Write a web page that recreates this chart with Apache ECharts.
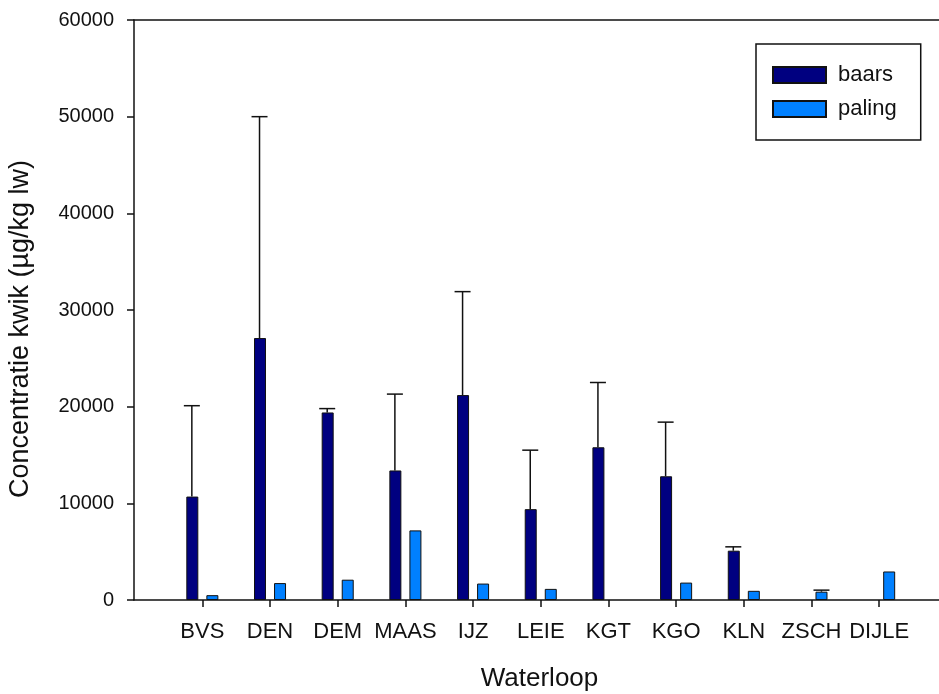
<!DOCTYPE html>
<html>
<head>
<meta charset="utf-8">
<style>
  html, body { margin: 0; padding: 0; background: #fff; }
  #chart { width: 939px; height: 694px; }
</style>
<script src="https://cdn.jsdelivr.net/npm/echarts@6/dist/echarts.min.js"></script>
</head>
<body>
<div id="chart"></div>
<script>
// ---- Data ----
const categories = ['BVS', 'DEN', 'DEM', 'MAAS', 'IJZ', 'LEIE', 'KGT', 'KGO', 'KLN', 'ZSCH', 'DIJLE'];
const baars      = [10700, 27100, 19400, 13400, 21200, 9400, 15800, 12800, 5100, null, null];
const baarsUpper = [20100, 50000, 19800, 21300, 31900, 15500, 22500, 18400, 5500, null, null];
const paling      = [500, 1750, 2100, 7200, 1700, 1150, null, 1800, 950, 860, 2950];
const palingUpper = [null, null, null, null, null, null, null, null, null, 1020, null];
const yTicks = [0, 10000, 20000, 30000, 40000, 50000, 60000];

const FONT = '"Liberation Sans", Arial, sans-serif';
const BAR_W = 12;
const BAR_OFF = 10;   // half distance between the two bar centres in a group

function errorSeries(name, values, uppers, offset) {
  const data = categories.map((c, i) => [i, values[i], uppers[i]]);
  return {
    type: 'custom',
    name: name + ' err',
    xAxisIndex: 2,
    yAxisIndex: 1,
    silent: true,
    z: 1,
    data: data,
    renderItem: function (params, api) {
      const v = api.value(1), u = api.value(2);
      if (u == null || isNaN(u) || v == null || isNaN(v)) return;
      const base = api.coord([api.value(0), v]);
      const top = api.coord([api.value(0), u]);
      const x = base[0] + offset;
      const half = 8;
      const st = { stroke: '#111', lineWidth: 1.5 };
      return {
        type: 'group',
        children: [
          { type: 'line', shape: { x1: x, y1: base[1], x2: x, y2: top[1] }, style: st },
          { type: 'line', shape: { x1: x - half, y1: top[1], x2: x + half, y2: top[1] }, style: st }
        ]
      };
    }
  };
}

const chart = echarts.init(document.getElementById('chart'));
chart.setOption({
  animation: false,
  backgroundColor: '#ffffff',
  textStyle: { fontFamily: FONT },
  legend: {
    orient: 'vertical',
    left: 756,
    top: 44,
    padding: [20, 24, 20, 16],
    itemWidth: 53,
    itemHeight: 16,
    itemGap: 12,
    borderColor: '#111',
    borderWidth: 1.5,
    borderRadius: 0,
    icon: 'rect',
    textStyle: { fontFamily: FONT, fontSize: 22, color: '#111', padding: [0, 0, 0, 7] },
    data: ['baars', 'paling']
  },
  grid: [
    { left: 134, right: 0, top: 20, bottom: 94, containLabel: false, outerBoundsMode: 'none' },
    { left: 168.5, right: 26, top: 20, bottom: 94, containLabel: false, outerBoundsMode: 'none' }
  ],
  xAxis: [
    { // frame bottom line
      gridIndex: 0, type: 'value', min: 0, max: 1, position: 'bottom',
      axisLine: { show: true, lineStyle: { color: '#111', width: 1.5 } },
      axisTick: { show: false }, axisLabel: { show: false }, splitLine: { show: false },
      name: 'Waterloop', nameLocation: 'middle', nameGap: 66,
      nameTextStyle: { fontFamily: FONT, fontSize: 26, color: '#111', padding: [0, 0, 0, 6] }
    },
    { // frame top line
      gridIndex: 0, type: 'value', min: 0, max: 1, position: 'top',
      axisLine: { show: true, lineStyle: { color: '#111', width: 1.5 } },
      axisTick: { show: false }, axisLabel: { show: false }, splitLine: { show: false }
    },
    { // categories
      gridIndex: 1, type: 'category', data: categories, position: 'bottom',
      axisLine: { show: false },
      axisTick: { show: true, alignWithLabel: true, length: 7, lineStyle: { color: '#111', width: 1.5 } },
      axisLabel: { fontFamily: FONT, fontSize: 22, color: '#111', margin: 21, interval: 0 },
      splitLine: { show: false }
    }
  ],
  yAxis: [
    {
      gridIndex: 0, type: 'value', min: yTicks[0], max: yTicks[yTicks.length - 1], interval: yTicks[1] - yTicks[0],
      axisLine: { show: true, lineStyle: { color: '#111', width: 1.5 } },
      axisTick: { show: true, inside: false, length: 7, lineStyle: { color: '#111', width: 1.5 } },
      axisLabel: { fontFamily: FONT, fontSize: 20, color: '#111', margin: 20, formatter: v => String(v) },
      splitLine: { show: false },
      name: 'Concentratie kwik (µg/kg lw)', nameLocation: 'middle', nameGap: 100, nameRotate: 90,
      nameTextStyle: { fontFamily: FONT, fontSize: 27, color: '#111', padding: [0, 38, 0, 0] }
    },
    {
      gridIndex: 1, type: 'value', min: yTicks[0], max: yTicks[yTicks.length - 1],
      show: false, splitLine: { show: false }
    }
  ],
  series: [
    {
      name: 'baars', type: 'bar', xAxisIndex: 2, yAxisIndex: 1,
      data: baars, barWidth: BAR_W, barGap: '67%', z: 2,
      itemStyle: { color: '#000080', borderColor: '#111', borderWidth: 1 }
    },
    {
      name: 'paling', type: 'bar', xAxisIndex: 2, yAxisIndex: 1,
      data: paling, barWidth: BAR_W, barGap: '67%', z: 2,
      itemStyle: { color: '#0080FF', borderColor: '#111', borderWidth: 1 }
    },
    errorSeries('baars', baars, baarsUpper, -BAR_OFF - 0.5),
    errorSeries('paling', paling, palingUpper, BAR_OFF)
  ]
});
</script>
</body>
</html>
